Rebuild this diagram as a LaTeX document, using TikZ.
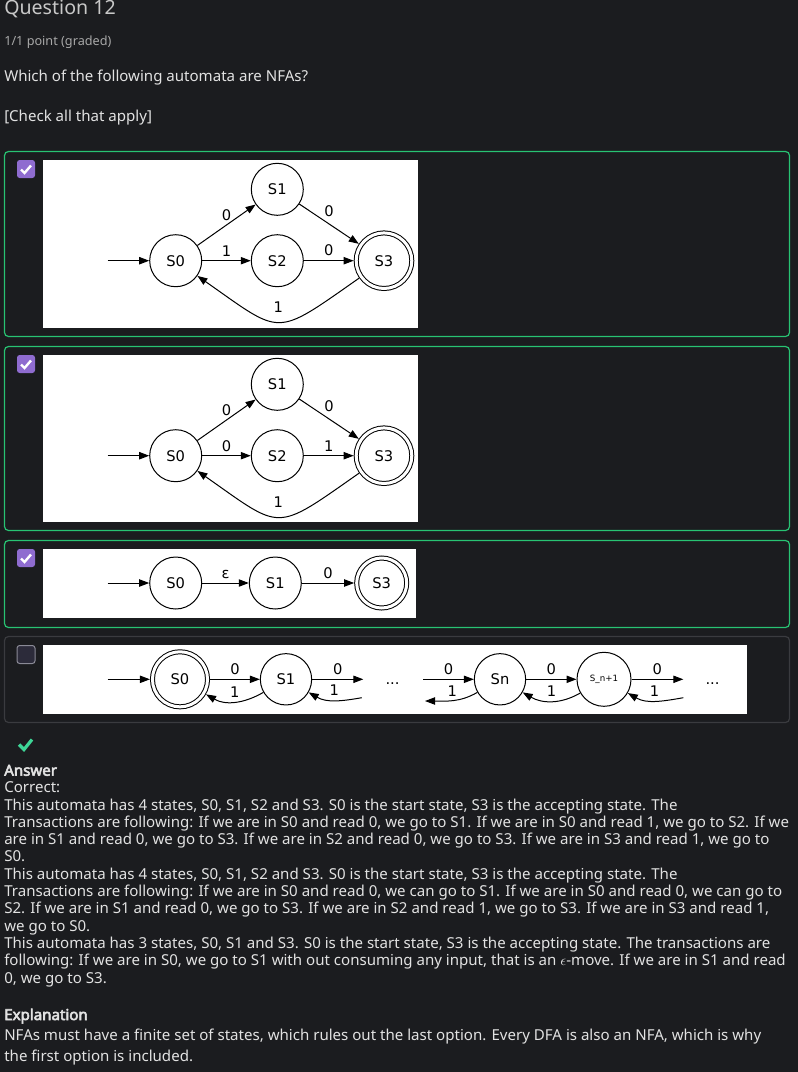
\documentclass[tikz,border=0pt]{standalone}
\usepackage{fontspec}
\setmainfont{Noto Sans}
\newfontfamily\headfont{Noto Sans}[FakeBold=3.5]
\newfontfamily\gvfont{DejaVu Sans}
\usetikzlibrary{arrows.meta, positioning, calc}

\definecolor{pagebg}{RGB}{27,28,31}
\definecolor{pagetext}{RGB}{226,226,226}
\definecolor{titletext}{RGB}{200,200,200}
\definecolor{dimtext}{RGB}{168,168,168}
\definecolor{okgreen}{RGB}{40,195,115}
\definecolor{boxgray}{RGB}{58,59,63}
\definecolor{tickpurple}{RGB}{143,108,208}
\definecolor{tickmark}{RGB}{62,214,151}
\definecolor{emptyfill}{RGB}{44,43,58}
\definecolor{emptyline}{RGB}{138,138,150}

\tikzset{
  gvstate/.style={circle, draw, line width=0.75pt, minimum size=39pt, inner sep=0pt,
    font=\gvfont\fontsize{11}{13}\selectfont},
  gvaccept/.style={gvstate, double, double distance=2.25pt, minimum size=41.7pt, outer sep=1.9pt},
  trans/.style={line width=0.75pt, -{Triangle[length=7.5pt,width=5.5pt]}},
  lbl/.style={inner sep=0pt, font=\gvfont\fontsize{11}{13}\selectfont},
  optbox/.style={rounded corners=3pt, line width=0.9pt},
  txtline/.style={anchor=base west, inner sep=0pt, text=pagetext, font=\fontsize{11.3}{13}\selectfont},
  headline/.style={txtline, font=\headfont\fontsize{11.3}{13}\selectfont},
}

\begin{document}
\begin{tikzpicture}[x=0.75pt, y=-0.75pt]
\fill[pagebg] (0,0) rectangle (798,1072);
\useasboundingbox (0,0) rectangle (798,1072);

% header
\node[txtline, text=titletext, font=\fontsize{14.7}{17}\selectfont] (qtitle) at (4,14) {Question 12};
\node[txtline, text=dimtext, font=\fontsize{9.5}{12}\selectfont] (qpoints) at (4,45) {1/1 point (graded)};
\node[txtline] (qtext) at (4,81.7) {Which of the following automata are NFAs?};
\node[txtline] (qhint) at (4,121.7) {[Check all that apply]};

% option frames
\draw[okgreen, optbox] (4.5,151.5) rectangle (789.5,336.5);
\draw[okgreen, optbox] (4.5,346.5) rectangle (789.5,530.5);
\draw[okgreen, optbox] (4.5,540.5) rectangle (789.5,627.5);
\draw[boxgray, optbox] (4.5,636.5) rectangle (789.5,722.5);

% check boxes
\foreach \y in {160,355,549} {
  \fill[tickpurple, rounded corners=2pt] (17,\y) rectangle (35,\y+18);
  \draw[white, line width=1.8pt] (21,\y+9.5) -- (24.5,\y+13) -- (31,\y+5.5);
}
\draw[emptyline, fill=emptyfill, rounded corners=2pt, line width=0.75pt] (17,645.5) rectangle (35,663.5);

% white image areas
\fill[white] (43,160) rectangle (418,327.5);
\fill[white] (43,355) rectangle (418,521.7);
\fill[white] (43,549) rectangle (416,618);
\fill[white] (43,645) rectangle (746.7,713.5);

% automaton 1
\node[gvstate] (a0) at (175.7,260.7) {S0};
\node[gvstate] (a1) at (277.3,189.3) {S1};
\node[gvstate] (a2) at (277.3,260.7) {S2};
\node[gvaccept] (a3) at (384,260.7) {S3};
\coordinate (ain) at (107.7,260.7);
\draw[trans] (ain) -- (a0);
\draw[trans] (a0) -- node[lbl, above=3pt] (a01) {0} (a1);
\draw[trans] (a1) -- node[lbl, above=5pt] (a13) {0} (a3);
\draw[trans] (a0) -- node[lbl, above=3pt] (a02) {1} (a2);
\draw[trans] (a2) -- node[lbl, above=3pt] (a23) {0} (a3);
\draw[trans] (a3) to[out=-145, in=-35, looseness=1.65] node[lbl, above=7pt] (a30) {1} (a0);

% automaton 2
\node[gvstate] (b0) at (175.7,455.7) {S0};
\node[gvstate] (b1) at (277.3,384.3) {S1};
\node[gvstate] (b2) at (277.3,455.7) {S2};
\node[gvaccept] (b3) at (384,455.7) {S3};
\coordinate (bin) at (107.7,455.7);
\draw[trans] (bin) -- (b0);
\draw[trans] (b0) -- node[lbl, above=3pt] (b01) {0} (b1);
\draw[trans] (b1) -- node[lbl, above=5pt] (b13) {0} (b3);
\draw[trans] (b0) -- node[lbl, above=3pt] (b02) {0} (b2);
\draw[trans] (b2) -- node[lbl, above=3pt] (b23) {1} (b3);
\draw[trans] (b3) to[out=-145, in=-35, looseness=1.65] node[lbl, above=7pt] (b30) {1} (b0);

% automaton 3
\node[gvstate] (c0) at (175.7,583) {S0};
\node[gvstate] (c1) at (275.3,583) {S1};
\node[gvaccept, minimum size=37.5pt] (c3) at (381.7,583) {S3};
\coordinate (cin) at (107.7,583);
\draw[trans] (cin) -- (c0);
\draw[trans] (c0) -- node[lbl, above=3pt] (c01) {ε} (c1);
\draw[trans] (c1) -- node[lbl, above=3pt] (c13) {0} (c3);

% automaton 4
\node[gvaccept, minimum size=41.3pt] (d0) at (180,679.3) {S0};
\node[gvstate, minimum size=38.5pt] (d1) at (286,679.3) {S1};
\node[gvstate, minimum size=38.5pt] (dn) at (500,679.3) {Sn};
\node[gvstate, minimum size=40.5pt, font=\gvfont\fontsize{6.5}{8}\selectfont] (dm) at (604,679.3) {S\_n+1};
\coordinate (din) at (107.7,679.3);
\coordinate (d1out) at (363.3,679.3);
\coordinate (d1back) at (361.7,697.7);
\coordinate (dnin) at (423.3,679.3);
\coordinate (dnback) at (425,701);
\coordinate (dmout) at (683.3,679.3);
\coordinate (dmback) at (683.3,697.7);
\draw[trans] (din) -- (d0);
\draw[trans] (d0) -- node[lbl, above=3pt] (d01) {0} (d1);
\draw[trans] (d1) to[out=-150, in=-30] node[lbl, above=3pt] (d10) {1} (d0);
\draw[trans] (d1) -- node[lbl, above=3pt] (d1a) {0} (d1out);
\draw[trans] (d1back) to[out=-170, in=-30] node[lbl, above=3pt] (d1b) {1} (d1);
\node[lbl, anchor=base] (dots1) at (392.5,684) {...};
\draw[trans] (dnin) -- node[lbl, above=3pt] (dna) {0} (dn);
\draw[trans] (dn) to[out=-150, in=0] node[lbl, above=3pt] (dnb) {1} (dnback);
\draw[trans] (dn) -- node[lbl, above=3pt] (dnm) {0} (dm);
\draw[trans] (dm) to[out=-150, in=-30] node[lbl, above=3pt] (dmn) {1} (dn);
\draw[trans] (dm) -- node[lbl, above=3pt] (dma) {0} (dmout);
\draw[trans] (dmback) to[out=-170, in=-30] node[lbl, above=3pt] (dmb) {1} (dm);
\node[lbl, anchor=base] (dots2) at (712.5,684) {...};

% answer
\draw[tickmark, line width=2.4pt] (19,744.5) -- (24,749.5) -- (32,739.5);
\node[headline] (ahead) at (4,775.7) {Answer};
\node[txtline] (l0) at (4,792.7) {Correct:};
\node[txtline] (l1) at (4,810) {This automata has 4 states, S0, S1, S2 and S3. S0 is the start state, S3 is the accepting state. The};
\node[txtline] (l2) at (4,827.3) {Transactions are following: If we are in S0 and read 0, we go to S1. If we are in S0 and read 1, we go to S2. If we};
\node[txtline] (l3) at (4,844.6) {are in S1 and read 0, we go to S3. If we are in S2 and read 0, we go to S3. If we are in S3 and read 1, we go to};
\node[txtline] (l4) at (4,861.9) {S0.};
\node[txtline] (l5) at (4,879.2) {This automata has 4 states, S0, S1, S2 and S3. S0 is the start state, S3 is the accepting state. The};
\node[txtline] (l6) at (4,896.5) {Transactions are following: If we are in S0 and read 0, we can go to S1. If we are in S0 and read 0, we can go to};
\node[txtline] (l7) at (4,913.8) {S2. If we are in S1 and read 0, we go to S3. If we are in S2 and read 1, we go to S3. If we are in S3 and read 1,};
\node[txtline] (l8) at (4,931.1) {we go to S0.};
\node[txtline] (l9) at (4,948.4) {This automata has 3 states, S0, S1 and S3. S0 is the start state, S3 is the accepting state. The transactions are};
\node[txtline] (l10) at (4,965.7) {following: If we are in S0, we go to S1 with out consuming any input, that is an $\epsilon$-move. If we are in S1 and read};
\node[txtline] (l11) at (4,983) {0, we go to S3.};
\node[headline] (ehead) at (4,1020) {Explanation};
\node[txtline] (e1) at (4,1040.5) {NFAs must have a finite set of states, which rules out the last option. Every DFA is also an NFA, which is why};
\node[txtline] (e2) at (4,1061.7) {the first option is included.};
\end{tikzpicture}
\end{document}
